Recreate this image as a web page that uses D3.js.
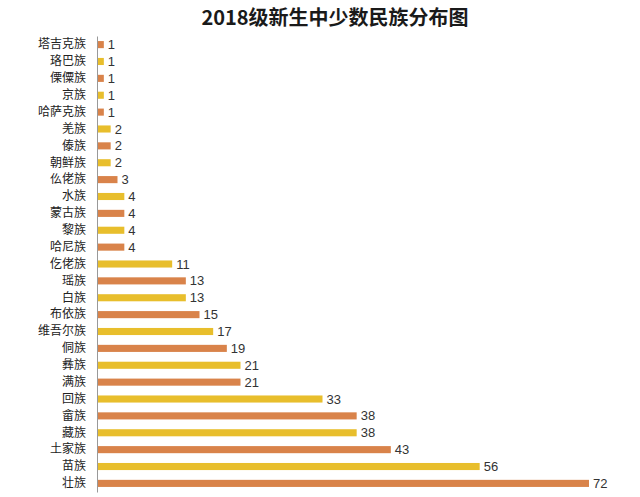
<!DOCTYPE html>
<html>
<head>
<meta charset="utf-8">
<script src="https://cdn.jsdelivr.net/npm/d3@7"></script>
<style>
  body { margin: 0; background: #fff; }
  svg { display: block; }
</style>
</head>
<body>
<div id="chart"></div>
<script>
// data, top to bottom
const groups = ['塔吉克族', '珞巴族', '傈僳族', '京族', '哈萨克族', '羌族', '傣族', '朝鲜族', '仫佬族',
  '水族', '蒙古族', '黎族', '哈尼族', '仡佬族', '瑶族', '白族', '布依族', '维吾尔族', '侗族',
  '彝族', '满族', '回族', '畲族', '藏族', '土家族', '苗族', '壮族'];
const counts = [1, 1, 1, 1, 1, 2, 2, 2, 3, 4, 4, 4, 4, 11, 13, 13, 15, 17, 19, 21, 21, 33, 38, 38, 43, 56, 72];
const barColors = ['#D9834A', '#E8BE2C'];

const width = 640, height = 497;
const margin = { top: 36, right: 20, bottom: 5, left: 97 };

const svg = d3.select('#chart').append('svg')
  .attr('width', width)
  .attr('height', height);

// title
svg.append('text')
  .attr('x', 335)
  .attr('y', 25)
  .attr('text-anchor', 'middle')
  .attr('font-family', '"Noto Sans CJK SC", sans-serif')
  .attr('font-size', '20px')
  .attr('font-weight', 'bold')
  .attr('fill', '#1a1a1a')
  .text('2018级新生中少数民族分布图');

const x = d3.scaleLinear().domain([0, 72]).range([margin.left, 589]);
const y = d3.scaleBand()
  .domain(groups)
  .range([margin.top, height - margin.bottom])
  .paddingInner(0.58)
  .paddingOuter(0.3);

const rows = groups.map((g, i) => ({ name: g, value: counts[i], idx: i }));

// bars
svg.append('g')
  .selectAll('rect')
  .data(rows)
  .enter()
  .append('rect')
  .attr('x', x(0))
  .attr('y', (d) => y(d.name))
  .attr('width', (d) => x(d.value) - x(0))
  .attr('height', y.bandwidth())
  .attr('fill', (d) => barColors[d.idx % 2]);

// value labels
svg.append('g')
  .selectAll('text')
  .data(rows)
  .enter()
  .append('text')
  .attr('x', (d) => x(d.value) + 4)
  .attr('y', (d) => y(d.name) + y.bandwidth() / 2)
  .attr('dy', '0.35em')
  .attr('font-family', '"Liberation Sans", sans-serif')
  .attr('font-size', '13px')
  .attr('fill', '#333')
  .text((d) => d.value);

// category axis
const axis = svg.append('g')
  .attr('transform', `translate(${margin.left},0)`)
  .call(d3.axisLeft(y).tickSize(0).tickPadding(11));

axis.select('.domain').attr('stroke', '#999').attr('stroke-width', 1);
axis.selectAll('text')
  .attr('font-family', '"Noto Sans CJK SC", sans-serif')
  .attr('font-size', '12px')
  .attr('fill', '#222');
</script>
</body>
</html>
